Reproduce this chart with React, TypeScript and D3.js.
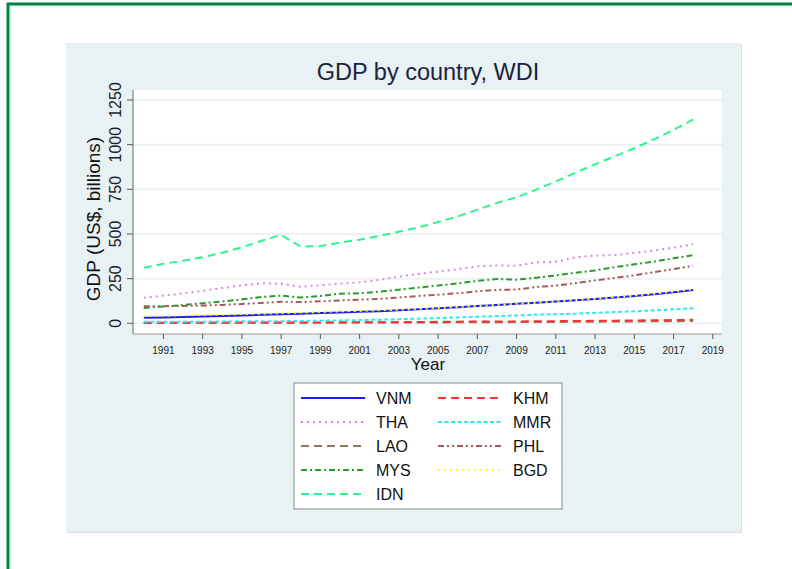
import React from 'react';
import * as d3 from 'd3';

const years = d3.range(1990, 2019);

const vnm = [31, 33, 35, 38, 41, 44, 48, 51, 54, 57, 60, 64, 68, 73, 78, 84, 90, 97, 103, 109, 115, 122, 129, 136, 144, 153, 163, 174, 186];
const tha = [143, 155, 168, 182, 197, 212, 224, 221, 204, 213, 222, 229, 243, 261, 277, 289, 303, 319, 324, 322, 341, 344, 369, 379, 382, 394, 407, 424, 442];
const lao = [2.2, 2.3, 2.5, 2.6, 2.8, 3.0, 3.2, 3.4, 3.5, 3.6, 3.6, 3.8, 4.1, 4.3, 4.6, 4.9, 5.3, 5.7, 6.1, 6.6, 7.1, 7.7, 8.3, 8.9, 9.6, 10.3, 11.0, 11.7, 12.4];
const mys = [86, 94, 102, 112, 122, 134, 147, 155, 144, 153, 166, 168, 177, 188, 200, 211, 223, 237, 248, 244, 255, 268, 283, 296, 314, 330, 345, 364, 382];
const idn = [311, 333, 350, 370, 395, 425, 462, 495, 429, 432, 452, 468, 489, 512, 537, 567, 598, 636, 674, 705, 748, 794, 843, 890, 935, 980, 1030, 1082, 1141];
const khm = [2.8, 3.0, 3.2, 3.4, 3.6, 3.9, 4.1, 4.3, 4.5, 5.0, 5.4, 5.8, 6.2, 6.6, 7.3, 8.3, 9.1, 10.0, 10.5, 10.5, 11.2, 12.0, 12.9, 13.8, 14.8, 15.9, 16.9, 18.1, 19.4];
const mmr = [8, 8, 9, 9, 10, 11, 11, 12, 13, 14, 16, 18, 20, 23, 26, 29, 33, 37, 40, 44, 48, 51, 54, 58, 63, 67, 72, 78, 84];
const phl = [96, 96, 97, 99, 103, 108, 114, 120, 119, 123, 128, 132, 137, 144, 153, 160, 168, 179, 187, 189, 203, 211, 225, 240, 254, 268, 286, 303, 322];
const bgd = [42, 43, 45, 47, 49, 52, 54, 57, 60, 63, 67, 70, 73, 76, 81, 86, 92, 97, 103, 109, 115, 122, 130, 138, 146, 155, 166, 178, 191];

const xTicks = d3.range(1991, 2020, 2);
const yTicks = [0, 250, 500, 750, 1000, 1250];

const series = [
  { name: 'VNM', values: vnm, color: '#1a1aff', dash: 'none' },
  { name: 'THA', values: tha, color: '#d68ad6', dash: '2,4' },
  { name: 'LAO', values: lao, color: '#8a7a5a', dash: '8,5' },
  { name: 'MYS', values: mys, color: '#2a9a2a', dash: '6,3,2,3' },
  { name: 'IDN', values: idn, color: '#2ef590', dash: '8,5' },
  { name: 'KHM', values: khm, color: '#ff3030', dash: '8,5' },
  { name: 'MMR', values: mmr, color: '#2ee8f2', dash: '4,2.5' },
  { name: 'PHL', values: phl, color: '#a85a5a', dash: '6,3,2,3,2,3' },
  { name: 'BGD', values: bgd, color: '#ffff3a', dash: '2,4' },
];

const font = '"Liberation Sans", Arial, sans-serif';

const App = () => {
  const plot = { left: 133, right: 722, top: 90, bottom: 334 };

  const xScale = d3.scaleLinear()
    .domain([1989.45, 2019.47])
    .range([plot.left, plot.right]);

  const yScale = d3.scaleLinear()
    .domain([-60, 1306])
    .range([plot.bottom, plot.top]);

  const line = (vals: number[]) => d3.line<number>()
    .x((_, i) => xScale(years[i]))
    .y((d) => yScale(d))(vals) as string;

  // legend: two columns, row-major like stata
  const legendRows = [398, 422, 446, 470, 494];

  return (
    <svg width={792} height={569} style={{ position: 'absolute', left: 0, top: 0 }} fontFamily={font}>
      <rect x={0} y={0} width={792} height={569} fill="#fff" />
      <rect x={8} y={4} width={800} height={600} fill="none" stroke="#00843d" strokeWidth={3} />
      <line x1={10} x2={10} y1={6} y2={569} stroke="#8fd6a8" strokeWidth={1} />

      {/* graph region */}
      <rect x={67} y={44} width={675} height={489} fill="#dcdcdc" />
      <rect x={66} y={43} width={675} height={489} fill="#e8f1f3" />

      <text x={428} y={80} textAnchor="middle" fontSize={23.5} fill="#1a2340">GDP by country, WDI</text>

      <rect x={plot.left} y={plot.top} width={plot.right - plot.left} height={plot.bottom - plot.top} fill="#fff" />

      {yTicks.map((t) => (
        <line key={t} x1={plot.left} x2={plot.right} y1={yScale(t)} y2={yScale(t)} stroke="#eaf2f3" strokeWidth={2} />
      ))}

      {series.map((s) => (
        <path key={s.name} d={line(s.values)} fill="none" stroke={s.color} strokeWidth={2}
          strokeDasharray={s.dash} />
      ))}

      {/* axes */}
      <line x1={plot.left} x2={plot.left} y1={plot.top} y2={plot.bottom} stroke="#666" strokeWidth={1} />
      <line x1={plot.left} x2={plot.right} y1={plot.bottom} y2={plot.bottom} stroke="#999" strokeWidth={1} />

      {yTicks.map((t) => (
        <g key={t} transform={`translate(${plot.left}, ${yScale(t)})`}>
          <line x1={-6} x2={0} stroke="#555" />
          <text transform="translate(-12, 0) rotate(-90)" textAnchor="middle" fontSize={16} fill="#222">{t}</text>
        </g>
      ))}
      <text transform={`translate(100, ${(plot.top + plot.bottom) / 2 + 7}) rotate(-90)`} textAnchor="middle" fontSize={19} fill="#111">
        GDP (US$, billions)
      </text>

      {xTicks.map((t) => (
        <g key={t} transform={`translate(${xScale(t)}, ${plot.bottom})`}>
          <line y1={0} y2={5} stroke="#555" />
          <text y={20} textAnchor="middle" fontSize={10} fill="#222">{t}</text>
        </g>
      ))}
      <text x={428} y={370} textAnchor="middle" fontSize={17} fill="#111">Year</text>

      {/* legend */}
      <rect x={294} y={383} width={268} height={126} fill="#fff" stroke="#888" strokeWidth={1} />
      {series.map((s, i) => {
        const col = i < 5 ? 0 : 1;
        const row = col === 0 ? i : i - 5;
        const x0 = col === 0 ? 301 : 438;
        const ly = legendRows[row];
        return (
          <g key={s.name}>
            <line x1={x0} x2={x0 + 64} y1={ly} y2={ly} stroke={s.color} strokeWidth={2} strokeDasharray={s.dash} />
            <text x={x0 + 75} y={ly + 6} fontSize={16} fill="#111">{s.name}</text>
          </g>
        );
      })}
    </svg>
  );
};

export default App;
